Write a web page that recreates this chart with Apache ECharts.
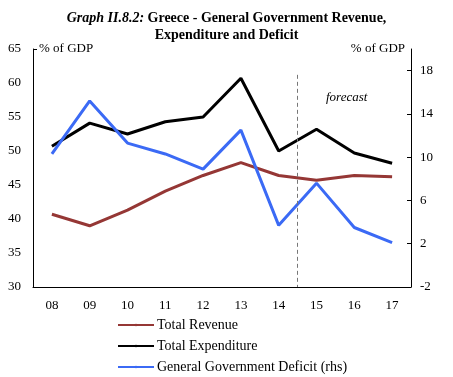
<!DOCTYPE html>
<html>
<head>
<meta charset="utf-8">
<script src="https://cdn.jsdelivr.net/npm/echarts@6/dist/echarts.min.js"></script>
<style>
  html, body { margin: 0; padding: 0; background: #fff; }
  #main { width: 453px; height: 377px; }
</style>
</head>
<body>
<div id="main"></div>
<script>
var years = ['08', '09', '10', '11', '12', '13', '14', '15', '16', '17'];
var revenue = [40.7, 39.0, 41.3, 44.1, 46.4, 48.3, 46.4, 45.7, 46.4, 46.2];
var expenditure = [50.7, 54.1, 52.5, 54.3, 55.0, 60.7, 50.0, 53.2, 49.7, 48.2];
var deficit = [10.3, 15.2, 11.3, 10.3, 8.9, 12.5, 3.7, 7.6, 3.5, 2.1];
var rightTicks = [-2, 2, 6, 10, 14, 18];
// forecast starts between 14 and 15 (boundary index 7 on a 0..10 scale)
var forecastAt = 7;

var serif = 'Liberation Serif';
var myChart = echarts.init(document.getElementById('main'));

var option = {
    animation: false,
    backgroundColor: '#fff',
    textStyle: { fontFamily: serif, color: '#000' },
    title: {
        text: '{i|Graph II.8.2: }{b|Greece - General Government Revenue,}\n{b|Expenditure and Deficit}',
        left: 'center',
        top: 5,
        textStyle: {
            rich: {
                i: { fontFamily: serif, fontStyle: 'italic', fontSize: 14, color: '#000', lineHeight: 17 },
                b: { fontFamily: serif, fontWeight: 'bold', fontSize: 14, color: '#000', lineHeight: 17 }
            }
        }
    },
    grid: { left: 33, right: 42, top: 49, bottom: 90 },
    legend: {
        orient: 'vertical',
        left: 112,
        top: 313,
        height: 90,
        itemWidth: 36,
        itemHeight: 3,
        itemGap: 7,
        textStyle: { fontFamily: serif, fontSize: 14, color: '#000', padding: [0, 0, 0, -2] },
        data: ['Total Revenue', 'Total Expenditure', 'General Government Deficit (rhs)']
    },
    xAxis: [{
        type: 'category',
        data: years,
        boundaryGap: true,
        axisLine: { onZero: false, lineStyle: { color: '#000', width: 1 } },
        axisTick: { inside: true, length: 5, lineStyle: { color: '#000' } },
        axisLabel: { color: '#000', fontFamily: serif, fontSize: 13, margin: 12 }
    }, {
        type: 'value',
        min: 0,
        max: years.length,
        show: false
    }],
    yAxis: [{
        type: 'value',
        min: 30,
        max: 65,
        interval: 5,
        name: '% of GDP',
        nameLocation: 'end',
        nameGap: 0,
        nameTextStyle: { fontFamily: serif, fontSize: 13, color: '#000', align: 'left', verticalAlign: 'middle', padding: [0, 0, 0, 6] },
        splitLine: { show: false },
        axisLine: { show: true, lineStyle: { color: '#000' } },
        axisTick: { show: true, inside: true, length: 4, customValues: [65], lineStyle: { color: '#000' } },
        axisLabel: { color: '#000', fontFamily: serif, fontSize: 13, margin: 12 }
    }, {
        type: 'value',
        min: -2,
        max: 20,
        interval: 4,
        position: 'right',
        name: '% of GDP',
        nameLocation: 'end',
        nameGap: 0,
        nameTextStyle: { fontFamily: serif, fontSize: 13, color: '#000', align: 'right', verticalAlign: 'middle', padding: [0, 6, 0, 0] },
        splitLine: { show: false },
        axisLine: { show: true, onZero: false, lineStyle: { color: '#000' } },
        axisTick: { show: true, inside: true, length: 4, customValues: rightTicks, lineStyle: { color: '#000' } },
        axisLabel: { color: '#000', fontFamily: serif, fontSize: 13, margin: 9, customValues: rightTicks }
    }],
    graphic: [{
        type: 'text',
        left: 326,
        top: 91,
        style: { text: 'forecast', font: 'italic 13px "Liberation Serif"', fill: '#000' }
    }],
    series: [{
        name: 'Total Revenue',
        type: 'line',
        data: revenue,
        symbol: 'none',
        lineStyle: { width: 3, color: '#953735' },
        itemStyle: { color: '#953735' }
    }, {
        name: 'Total Expenditure',
        type: 'line',
        data: expenditure,
        symbol: 'none',
        lineStyle: { width: 3, color: '#000' },
        itemStyle: { color: '#000' }
    }, {
        name: 'General Government Deficit (rhs)',
        type: 'line',
        yAxisIndex: 1,
        data: deficit,
        symbol: 'none',
        lineStyle: { width: 3, color: '#3b6af5' },
        itemStyle: { color: '#3b6af5' }
    }, {
        name: 'forecast line',
        type: 'line',
        xAxisIndex: 1,
        yAxisIndex: 0,
        data: [],
        markLine: {
            silent: true,
            symbol: 'none',
            label: { show: false },
            lineStyle: { type: [4, 3], color: '#777', width: 1 },
            data: [[{ coord: [forecastAt, 61.2] }, { coord: [forecastAt, 30] }]]
        }
    }]
};

myChart.setOption(option);
</script>
</body>
</html>
